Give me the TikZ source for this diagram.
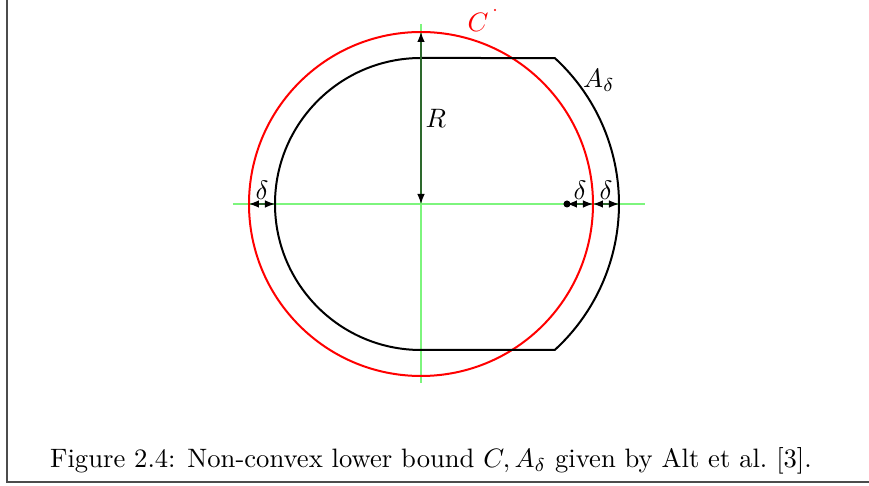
\documentclass[tikz,border=0pt]{standalone}
\usepackage{tikz}
\usetikzlibrary{arrows.meta,calc}
\definecolor{boundred}{RGB}{255,0,0}
\definecolor{axisgreen}{RGB}{125,245,125}
\definecolor{dimgreen}{RGB}{45,105,45}
\tikzset{
  axisline/.style={draw=axisgreen,line width=0.6pt},
  boundline/.style={draw=boundred,line width=0.8pt},
  shapeline/.style={draw=black,line width=0.8pt},
  dimarrow/.style={
    {Latex[length=4pt,width=3pt,color=black]}-{Latex[length=4pt,width=3pt,color=black]},
    draw=dimgreen,
    line width=0.5pt
  },
  framerule/.style={draw=black!70,line width=0.6pt},
  dimlabel/.style={above=0.5pt,inner sep=1pt}
}

\begin{document}
\begin{tikzpicture}[x=0.4pt,y=0.4pt,every node/.style={scale=1.065}]
  \def\rad{172}
  \def\dl{26}
  \useasboundingbox (-421,-282) rectangle (448,204);

  % page frame
  \coordinate (ftop) at (-414,204);
  \coordinate (fcorner) at (-414,-278);
  \coordinate (fright) at (448,-278);
  \draw[framerule] (ftop) -- (fcorner) -- (fright);

  % axes
  \coordinate (O) at (0,0);
  \coordinate (xl) at (-188,0);
  \coordinate (xr) at (224,0);
  \coordinate (yt) at (0,180);
  \coordinate (yb) at (0,-179);
  \draw[axisline] (xl) -- (xr);
  \draw[axisline] (yt) -- (yb);

  % lower bound C
  \draw[boundline] (O) circle[radius=\rad];
  \node[text=boundred] (clabel) at (57,182) {$C$};
  \fill[boundred] (74,194) circle[radius=1.2];

  % A_delta
  \pgfmathsetmacro{\cut}{asin((\rad-\dl)/(\rad+\dl))}
  \draw[shapeline] (0,\rad-\dl) arc[start angle=90,end angle=270,radius=\rad-\dl]
    -- (-\cut:\rad+\dl) arc[start angle=-\cut,end angle=\cut,radius=\rad+\dl] -- cycle;
  \node (alabel) at (178,124) {$A_\delta$};

  % radius
  \coordinate (ctop) at (0,\rad);
  \draw[dimarrow] (O) -- node[pos=0.5,right=0pt,inner sep=1.5pt,name=rlabel] {$R$} (ctop);

  % left gap
  \coordinate (cl) at (-\rad,0);
  \coordinate (al) at (-\rad+\dl,0);
  \draw[dimarrow] (cl) -- node[dimlabel,name=dleft] {$\delta$} (al);

  % right gaps
  \coordinate (pt) at (\rad-\dl,0);
  \coordinate (cr) at (\rad,0);
  \coordinate (ar) at (\rad+\dl,0);
  \draw[dimarrow] (pt) -- node[dimlabel,name=dmid] {$\delta$} (cr);
  \draw[dimarrow] (cr) -- node[dimlabel,name=dright] {$\delta$} (ar);
  \fill (pt) circle[radius=3.5];

  \node (caption) at (10,-257) {Figure 2.4: Non-convex lower bound $C, A_\delta$ given by Alt et al.\ [3].};
\end{tikzpicture}
\end{document}
